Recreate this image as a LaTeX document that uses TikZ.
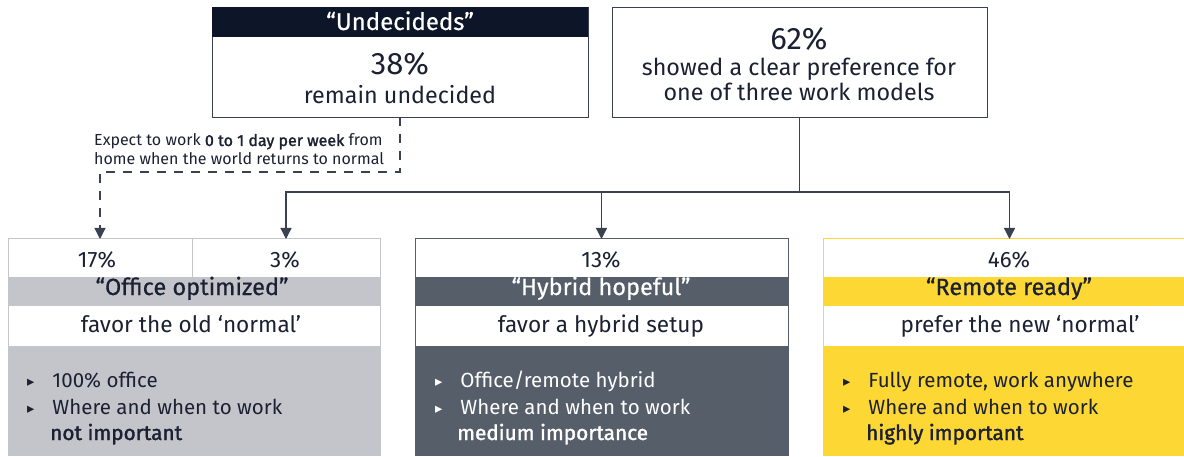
\documentclass[tikz,border=0pt]{standalone}
\usepackage{fontspec}
\setmainfont{Fira Sans}
\newfontfamily\hfont{Fira Sans}[FakeBold=1.6]
\newfontfamily\mfont{Fira Sans}[FakeBold=0.5]
\newfontfamily\symfont{DejaVu Sans}
\usetikzlibrary{arrows.meta}

\definecolor{navy}{HTML}{0D1529}
\definecolor{ink}{HTML}{1B2132}
\definecolor{slate}{HTML}{565E6A}
\definecolor{mist}{HTML}{C4C5CA}
\definecolor{sun}{HTML}{FDD733}
\definecolor{wire}{HTML}{3A4150}

\newcommand\fsz[1]{\fontsize{#1}{#1}\selectfont}
\newcommand\bul{{\symfont\fsz{14.5}\raisebox{0.5pt}{▸}}\hspace{18pt}}

\begin{document}
\begin{tikzpicture}[x=1pt,y=-1pt,
  blk/.style 2 args={anchor=north west, inner sep=0pt, outer sep=0pt,
    minimum width=#1, minimum height=#2},
  txt/.style={anchor=base, inner sep=0pt, text=ink},
  lft/.style={anchor=base west, inner sep=0pt, text=ink},
  wire/.style={draw=wire, line width=1.3pt},
  arrowline/.style={wire, -{Triangle[width=11pt,length=11pt]}},
  dashline/.style={wire, line width=1.2pt, dash pattern=on 9pt off 8pt,
    -{Triangle[width=11pt,length=11pt]}}]

\useasboundingbox (0,0) rectangle (1184,457);
\clip (0,0) rectangle (1184,457);
\fill[white] (0,0) rectangle (1184,457);

% ---- top: undecided share ----
\node[blk={376}{110}, draw=wire, line width=0.8pt, fill=white] (und) at (212,7) {};
\node[blk={376}{30}, fill=navy] (undhead) at (212,7) {};
\node[txt, text=white, font=\mfont\fsz{24}] (undlbl) at (400,30) {“Undecideds”};
\node[txt, font=\fsz{31}] (undpct) at (400,75) {38\%};
\node[txt, font=\fsz{23.3}] (undtxt) at (400,104) {remain undecided};

% ---- top: clear preference ----
\node[blk={375}{110}, draw=wire, line width=0.8pt, fill=white] (pref) at (612,7) {};
\node[txt, font=\fsz{31}] (prefpct) at (799,50) {62\%};
\node[txt, font=\fsz{23.3}] (preft1) at (799,76) {showed a clear preference for};
\node[txt, font=\fsz{23.3}] (preft2) at (799,101) {one of three work models};

% ---- note on the dashed path ----
\node[lft, font=\fsz{16}] (note1) at (94,146) {Expect to work {\hfont 0 to 1 day per week} from};
\node[lft, font=\fsz{16}] (note2) at (94,165) {home when the world returns to normal};

% ---- office optimized ----
\node[blk={184}{38}, fill=white] (c17) at (8,239) {};
\node[blk={188}{38}, fill=white] (c3) at (192,239) {};
\node[blk={372}{29}, fill=mist] (offhead) at (8,277) {};
\node[blk={372}{40}, fill=white] (offsub) at (8,306) {};
\node[blk={372}{109}, fill=mist] (offbody) at (8,346) {};
\draw[mist, line width=1pt] (c17.north east) -- (c17.south east);
\draw[mist, line width=1pt] (8,239) rectangle (380,455);
\node[txt, font=\fsz{22.3}] at (97,268) {17\%};
\node[txt, font=\fsz{22.3}] at (285,268) {3\%};
\node[txt, font=\mfont\fsz{23.5}] at (192,295) {“Office optimized”};
\node[txt, font=\fsz{22.6}] at (191,332) {favor the old ‘normal’};
\node[lft, font=\fsz{20.5}] at (27,387) {\bul 100\% office};
\node[lft, font=\fsz{20.5}] at (27,414) {\bul Where and when to work};
\node[lft, font=\hfont\fsz{20.8}] at (50,440) {not important};

% ---- hybrid hopeful ----
\node[blk={373}{38}, fill=white] (h13) at (415,239) {};
\node[blk={373}{29}, fill=slate] (hybhead) at (415,277) {};
\node[blk={373}{40}, fill=white] (hybsub) at (415,306) {};
\node[blk={373}{109}, fill=slate] (hybbody) at (415,346) {};
\draw[slate, line width=1pt] (415,239) rectangle (788,455);
\node[txt, font=\fsz{22.3}] at (601,268) {13\%};
\node[txt, text=white, font=\mfont\fsz{23.5}] at (601,295) {“Hybrid hopeful”};
\node[txt, font=\fsz{22.6}] at (601,332) {favor a hybrid setup};
\node[lft, text=white, font=\fsz{20.5}] at (435,387) {\bul Office/remote hybrid};
\node[lft, text=white, font=\fsz{20.5}] at (435,414) {\bul Where and when to work};
\node[lft, text=white, font=\hfont\fsz{20.8}] at (457,440) {medium importance};

% ---- remote ready ----
\node[blk={373}{38}, fill=white] (r46) at (823,239) {};
\node[blk={373}{29}, fill=sun] (remhead) at (823,277) {};
\node[blk={373}{40}, fill=white] (remsub) at (823,306) {};
\node[blk={373}{109}, fill=sun] (rembody) at (823,346) {};
\draw[sun, line width=1pt] (823,239) rectangle (1196,455);
\node[txt, font=\fsz{22.3}] at (1009,268) {46\%};
\node[txt, font=\mfont\fsz{23.5}] at (1009,295) {“Remote ready”};
\node[txt, font=\fsz{22.6}] at (1020,332) {prefer the new ‘normal’};
\node[lft, font=\fsz{20.5}] at (843,387) {\bul Fully remote, work anywhere};
\node[lft, font=\fsz{20.5}] at (843,414) {\bul Where and when to work};
\node[lft, font=\hfont\fsz{20.8}] at (866,440) {highly important};

% ---- connectors ----
\coordinate (hub) at (pref.south |- 0,192);
\draw[wire] (pref.south) -- (hub);
\draw[arrowline] (hub) -| (c3.north);
\draw[arrowline] (hub) -| (h13.north);
\draw[arrowline] (hub) -| (r46.north);
\draw[dashline] (und.south) -- ++(0,55) -| (c17.north);
\end{tikzpicture}
\end{document}
